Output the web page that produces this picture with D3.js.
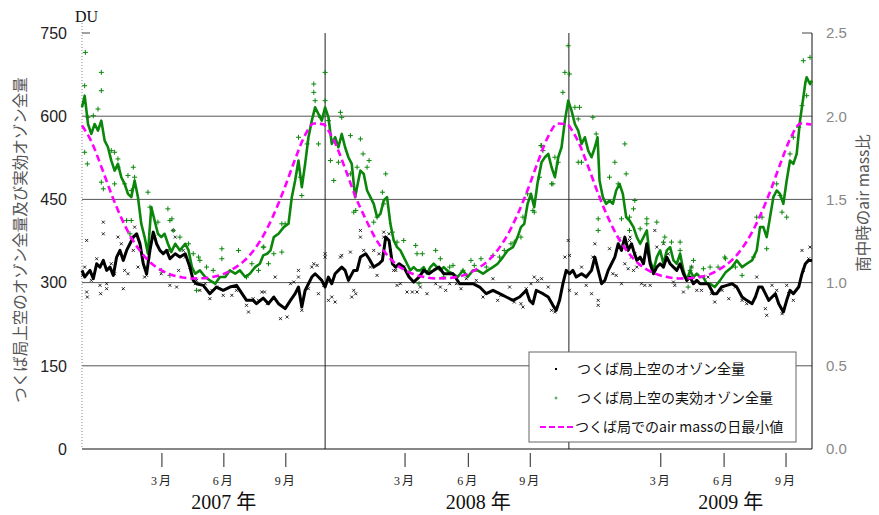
<!DOCTYPE html>
<html lang="ja">
<head>
<meta charset="UTF-8" />
<title>つくば局 オゾン全量と air mass</title>
<script src="https://d3js.org/d3.v7.min.js"></script>
<style>
  body { margin: 0; background: #fff; }
  svg { display: block; }
  .jp { font-family: "Noto Sans CJK JP", sans-serif; }
  .num { font-family: "Liberation Sans", Arial, sans-serif; }
  .serif { font-family: "Liberation Serif", "Noto Sans CJK JP", serif; }
</style>
</head>
<body>
<svg id="chart" width="879" height="515"></svg>
<script>
// days counted from 2007-01-01
const startDate = new Date(2007, 0, 1);
const endDate = new Date(2010, 0, 1);

// つくば局上空のオゾン全量 (running mean), [day, DU]
const totalLine = [[0,322],[4,310],[12,322],[17,307],[22,334],[27,328],[32,340],[37,322],[42,328],[47,313],[52,346],[57,358],[62,340],[67,358],[72,370],[77,382],[82,388],[87,370],[92,334],[97,316],[102,358],[107,391],[112,370],[117,358],[122,352],[127,358],[132,343],[140,352],[147,346],[155,352],[162,328],[167,304],[172,298],[182,295],[192,280],[202,292],[212,286],[222,292],[232,295],[237,286],[247,268],[257,268],[262,262],[272,272],[280,262],[288,274],[295,262],[305,253],[313,268],[320,280],[325,292],[330,256],[335,286],[340,298],[345,310],[350,316],[355,310],[360,304],[365,292],[370,310],[375,298],[380,316],[385,322],[390,328],[395,322],[400,304],[408,322],[413,322],[418,346],[426,352],[431,343],[438,328],[446,334],[451,340],[456,382],[461,376],[466,334],[471,328],[476,334],[483,328],[491,310],[498,301],[506,310],[513,322],[521,316],[528,322],[536,328],[543,316],[552,316],[557,316],[567,298],[577,298],[587,298],[597,292],[607,280],[617,286],[627,280],[637,274],[647,268],[657,274],[667,286],[672,268],[677,262],[682,286],[687,283],[692,280],[700,274],[707,259],[712,250],[717,268],[722,298],[727,322],[732,316],[737,322],[742,310],[750,316],[757,310],[765,322],[770,346],[775,322],[780,298],[785,304],[790,322],[795,334],[800,346],[805,370],[810,358],[815,382],[820,358],[825,370],[828,358],[833,340],[838,346],[843,334],[848,370],[853,334],[858,316],[863,328],[868,334],[873,328],[878,346],[883,334],[888,328],[893,322],[898,334],[903,316],[908,304],[913,310],[918,298],[923,304],[928,298],[933,298],[940,298],[948,280],[953,280],[960,292],[968,295],[976,298],[983,292],[991,274],[998,268],[1006,262],[1011,274],[1016,292],[1021,292],[1026,280],[1031,268],[1036,274],[1041,280],[1046,262],[1053,247],[1058,268],[1063,286],[1068,280],[1076,292],[1081,316],[1086,334],[1091,340],[1096,340]];

// つくば局上空の実効オゾン全量 (running mean), [day, DU]
const effectiveLine = [[0,616],[4,637],[9,586],[14,568],[19,586],[24,574],[29,592],[34,556],[39,544],[44,520],[49,502],[54,514],[59,490],[64,478],[69,460],[74,454],[79,484],[84,454],[89,406],[94,382],[99,352],[104,436],[109,412],[114,388],[119,382],[124,388],[129,370],[134,355],[140,370],[147,358],[155,370],[160,358],[165,328],[170,316],[177,322],[185,310],[192,304],[200,298],[207,310],[215,310],[222,322],[230,316],[237,322],[245,310],[252,316],[260,328],[267,334],[272,349],[278,352],[283,358],[288,382],[295,388],[303,400],[310,406],[315,454],[320,484],[325,520],[330,472],[335,514],[340,562],[345,592],[350,616],[355,604],[360,592],[365,616],[370,598],[375,550],[380,562],[385,544],[390,568],[395,544],[400,526],[405,514],[410,454],[414,478],[418,502],[423,496],[428,466],[433,454],[438,442],[443,418],[448,424],[453,448],[458,454],[463,406],[468,376],[473,364],[478,358],[483,346],[488,334],[493,322],[498,328],[503,322],[508,322],[513,328],[518,316],[523,328],[528,334],[533,328],[538,322],[543,328],[550,320],[557,316],[564,310],[572,322],[579,310],[587,322],[594,322],[602,316],[609,322],[617,328],[624,334],[632,346],[639,358],[647,364],[654,382],[659,400],[664,406],[669,442],[674,460],[679,436],[684,480],[690,517],[695,526],[700,532],[705,508],[710,490],[715,526],[720,544],[725,592],[730,628],[735,610],[740,586],[745,574],[750,550],[755,562],[760,538],[765,526],[770,544],[774,562],[777,484],[782,454],[787,442],[792,448],[797,442],[802,466],[807,478],[812,460],[817,418],[822,412],[828,400],[833,382],[838,370],[843,382],[848,394],[853,340],[858,322],[863,346],[868,358],[873,334],[878,358],[883,364],[888,340],[893,334],[898,352],[903,322],[908,304],[913,322],[918,310],[923,316],[928,310],[933,310],[938,298],[943,298],[950,292],[958,304],[966,318],[976,328],[983,340],[991,328],[998,334],[1006,340],[1013,358],[1018,400],[1023,400],[1028,382],[1033,418],[1038,454],[1043,466],[1048,460],[1053,442],[1058,484],[1063,520],[1068,514],[1073,532],[1078,592],[1083,634],[1086,660],[1088,670],[1093,658],[1096,664]];

// daily values (markers), [day, DU]
const totalPoints = [[7,376],[32,388],[32,409],[7,283],[8,274],[27,295],[28,280],[37,298],[37,289],[62,289],[54,382],[59,370],[69,316],[77,358],[79,400],[84,328],[94,310],[97,313],[119,316],[129,358],[132,295],[4,328],[14,304],[1,313],[49,316],[44,334],[22,343],[64,322],[109,382],[74,382],[137,394],[140,382],[145,322],[142,292],[152,358],[155,346],[162,328],[170,298],[177,286],[185,298],[192,271],[195,286],[212,277],[225,277],[232,286],[247,259],[250,247],[257,271],[265,268],[270,283],[172,304],[202,292],[278,262],[290,310],[298,235],[308,238],[313,298],[318,301],[325,310],[325,322],[330,250],[345,328],[348,334],[353,331],[355,280],[363,295],[365,352],[365,346],[370,268],[375,274],[380,265],[388,346],[390,349],[403,355],[405,274],[408,286],[274,283],[340,289],[411,280],[418,394],[418,382],[423,358],[433,328],[438,358],[443,313],[446,352],[453,391],[453,382],[461,388],[468,322],[471,322],[473,295],[478,298],[483,328],[488,283],[496,283],[503,283],[508,292],[518,280],[531,298],[538,292],[546,286],[463,358],[552,298],[562,298],[569,289],[577,307],[592,304],[602,274],[617,307],[624,268],[629,277],[642,292],[649,265],[659,262],[667,289],[674,298],[679,310],[684,304],[662,256],[690,307],[700,292],[705,250],[710,247],[725,346],[730,376],[732,349],[732,286],[742,280],[750,328],[757,295],[767,346],[770,370],[775,268],[775,259],[792,361],[797,316],[802,313],[807,379],[810,298],[815,334],[820,325],[822,376],[825,346],[765,280],[823,382],[828,322],[833,328],[840,298],[845,295],[853,295],[860,394],[863,364],[873,370],[880,352],[888,301],[890,295],[903,283],[915,328],[923,286],[930,286],[940,310],[945,280],[950,265],[830,352],[961,286],[971,271],[981,292],[991,268],[998,262],[1013,310],[1026,253],[1028,241],[1036,295],[1043,286],[1051,244],[1058,295],[1061,280],[1068,268],[1081,358],[1083,322],[1091,343],[1093,364]];

const effectivePoints = [[5,715],[29,679],[29,646],[4,655],[9,598],[4,535],[8,514],[17,601],[24,613],[44,538],[49,535],[54,523],[54,508],[69,493],[77,508],[79,490],[29,481],[32,469],[49,478],[64,478],[74,466],[99,463],[102,436],[114,409],[129,433],[132,412],[132,313],[119,322],[74,412],[72,388],[67,412],[135,415],[137,394],[147,382],[160,370],[167,352],[175,346],[177,340],[172,286],[187,328],[197,322],[210,361],[210,343],[235,358],[247,310],[255,334],[265,322],[272,364],[273,364],[280,334],[288,352],[300,406],[300,355],[305,406],[325,562],[328,490],[330,457],[338,550],[348,658],[348,643],[350,628],[358,598],[355,550],[365,679],[365,628],[373,520],[378,484],[388,607],[390,598],[403,565],[403,496],[408,427],[370,592],[385,517],[418,559],[422,532],[431,520],[428,508],[413,508],[411,430],[438,409],[443,418],[456,496],[451,463],[453,442],[466,391],[473,373],[483,376],[501,367],[503,352],[511,352],[521,322],[531,358],[538,343],[543,310],[506,298],[552,328],[557,331],[572,322],[584,340],[589,331],[599,343],[607,328],[617,349],[627,346],[634,358],[644,370],[649,373],[659,382],[662,418],[669,460],[677,430],[679,427],[687,490],[689,547],[690,547],[692,538],[705,478],[707,478],[710,526],[715,517],[722,643],[725,679],[732,676],[730,727],[740,616],[745,595],[747,616],[767,598],[772,568],[745,517],[750,517],[775,394],[775,415],[792,490],[800,517],[805,478],[815,550],[810,415],[822,394],[822,418],[817,496],[828,433],[830,448],[838,397],[848,415],[848,406],[863,409],[873,373],[875,382],[885,373],[898,373],[898,358],[913,322],[915,328],[918,340],[910,292],[933,325],[943,328],[955,328],[965,346],[966,343],[991,313],[981,328],[1008,346],[1013,418],[1021,418],[1028,361],[1043,478],[1048,457],[1051,427],[1058,418],[1063,532],[1068,562],[1076,580],[1081,619],[1083,700],[1093,706],[1088,637]];

// つくば局での air mass の日最小値 (same each year)
const airMassDays = ["01-01","01-15","02-01","02-15","03-01","03-15","04-01","04-15","05-01","05-15","06-01","06-15","07-01","07-15","08-01","08-15","09-01","09-15","10-01","10-15","11-01","11-15","12-01","12-15","12-31"];
const airMassValues = [1.944,1.848,1.675,1.523,1.389,1.277,1.176,1.116,1.072,1.047,1.031,1.025,1.026,1.033,1.051,1.080,1.129,1.190,1.288,1.401,1.567,1.720,1.879,1.956,1.950];
const years = [2007, 2008, 2009];

const leftTicks = [0, 150, 300, 450, 600, 750];
const rightTicks = [0.0, 0.5, 1.0, 1.5, 2.0, 2.5];
const gridValues = [150, 300, 450, 600];
const yearBoundaries = ["2008-01-01", "2009-01-01"];
const monthTickDates = ["2007-05-01","2007-08-02","2007-11-03","2008-04-30","2008-08-03","2008-11-04","2009-05-19","2009-08-22","2009-11-23"];
const monthTickLabels = ["3月","6月","9月","3月","6月","9月","3月","6月","9月"];
const yearLabelDates = ["2007-08-02","2008-08-18","2009-09-01"];
const yearLabels = ["2007 年","2008 年","2009 年"];

const legendItems = [
  { key: "dot", text: "つくば局上空のオゾン全量" },
  { key: "plus", text: "つくば局上空の実効オゾン全量" },
  { key: "dash", text: "つくば局でのair massの日最小値" }
];

const parse = d3.timeParse("%Y-%m-%d");
const dayToDate = d => d3.timeDay.offset(startDate, d);

const svg = d3.select("#chart");
const plotLeft = 82, plotRight = 812, plotTop = 33, plotBottom = 449;

const x = d3.scaleTime().domain([startDate, endDate]).range([plotLeft, plotRight]);
const y = d3.scaleLinear().domain([0, 750]).range([plotBottom, plotTop]);
const y2 = d3.scaleLinear().domain([0, 2.5]).range([plotBottom, plotTop]);

const green = "#0a870a";
const magenta = "#ff00ff";

// grid
svg.append("g")
  .selectAll("line")
  .data(gridValues)
  .join("line")
  .attr("x1", plotLeft).attr("x2", plotRight)
  .attr("y1", d => y(d)).attr("y2", d => y(d))
  .attr("stroke", "#555").attr("stroke-width", 1);

// short ticks at top
svg.append("line").attr("x1", plotLeft).attr("x2", plotLeft + 8).attr("y1", y(750)).attr("y2", y(750)).attr("stroke", "#444");
svg.append("line").attr("x1", plotRight - 10).attr("x2", plotRight).attr("y1", y(750)).attr("y2", y(750)).attr("stroke", "#444");

svg.append("g")
  .selectAll("line")
  .data(yearBoundaries)
  .join("line")
  .attr("x1", d => x(parse(d))).attr("x2", d => x(parse(d)))
  .attr("y1", plotTop).attr("y2", plotBottom)
  .attr("stroke", "#222").attr("stroke-width", 1);

// axes frame
svg.append("line").attr("x1", plotLeft).attr("x2", plotLeft).attr("y1", plotTop - 10).attr("y2", plotBottom)
  .attr("stroke", "#888").attr("stroke-dasharray", "1,2");
svg.append("line").attr("x1", plotRight).attr("x2", plotRight).attr("y1", plotTop).attr("y2", plotBottom)
  .attr("stroke", "#111");
svg.append("line").attr("x1", plotLeft).attr("x2", plotRight).attr("y1", plotBottom).attr("y2", plotBottom)
  .attr("stroke", "#111").attr("stroke-width", 1.2);

// markers
svg.append("g")
  .selectAll("path")
  .data(totalPoints)
  .join("path")
  .attr("transform", d => `translate(${x(dayToDate(d[0]))},${y(d[1])})`)
  .attr("d", "M-1.5,-1.5L1.5,1.5M-1.5,1.5L1.5,-1.5")
  .attr("stroke", "#111").attr("stroke-width", 0.9);

svg.append("g")
  .selectAll("path")
  .data(effectivePoints)
  .join("path")
  .attr("transform", d => `translate(${x(dayToDate(d[0]))},${y(d[1])})`)
  .attr("d", "M-2.5,0H2.5M0,-2.5V2.5")
  .attr("stroke", green).attr("stroke-width", 1);

const line = d3.line()
  .x(d => x(dayToDate(d[0])))
  .y(d => y(d[1]));

svg.append("path")
  .datum(effectiveLine)
  .attr("d", line)
  .attr("fill", "none").attr("stroke", green).attr("stroke-width", 2.6)
  .attr("stroke-linejoin", "round");

svg.append("path")
  .datum(totalLine)
  .attr("d", line)
  .attr("fill", "none").attr("stroke", "#000").attr("stroke-width", 3)
  .attr("stroke-linejoin", "round");

// air mass
const airMass = [];
years.forEach(yr => {
  airMassDays.forEach((md, i) => {
    airMass.push({ date: parse(`${yr}-${md}`), value: airMassValues[i] });
  });
});

svg.append("path")
  .datum(airMass)
  .attr("d", d3.line().curve(d3.curveMonotoneX).x(d => x(d.date)).y(d => y2(d.value)))
  .attr("fill", "none").attr("stroke", magenta).attr("stroke-width", 2.6)
  .attr("stroke-dasharray", "7,4");

// left tick labels
svg.append("g")
  .selectAll("text")
  .data(leftTicks)
  .join("text")
  .attr("class", "num")
  .attr("x", 67).attr("y", d => y(d))
  .attr("dy", "0.36em")
  .attr("text-anchor", "end")
  .attr("font-size", 16)
  .attr("fill", "#222")
  .text(d => d);

// right tick labels
svg.append("g")
  .selectAll("text")
  .data(rightTicks)
  .join("text")
  .attr("class", "num")
  .attr("x", 826).attr("y", d => y2(d))
  .attr("dy", "0.36em")
  .attr("font-size", 15)
  .attr("fill", "#888")
  .text(d => d.toFixed(1));

svg.append("text")
  .attr("class", "serif")
  .attr("x", 75).attr("y", 22)
  .attr("font-size", 16)
  .attr("fill", "#111")
  .text("DU");

svg.append("text")
  .attr("class", "jp")
  .attr("transform", "translate(26,240) rotate(-90)")
  .attr("text-anchor", "middle")
  .attr("font-size", 15.5)
  .attr("fill", "#555")
  .text("つくば局上空のオゾン全量及び実効オゾン全量");

svg.append("text")
  .attr("class", "jp")
  .attr("transform", "translate(869,203) rotate(-90)")
  .attr("text-anchor", "middle")
  .attr("font-size", 15.5)
  .attr("fill", "#555")
  .text("南中時のair mass比");

// month ticks and labels
svg.append("g")
  .selectAll("line")
  .data(monthTickDates)
  .join("line")
  .attr("x1", d => x(parse(d))).attr("x2", d => x(parse(d)))
  .attr("y1", 453).attr("y2", 467)
  .attr("stroke", "#222");

svg.append("g")
  .selectAll("text")
  .data(monthTickDates)
  .join("text")
  .attr("class", "serif")
  .attr("x", d => x(parse(d))).attr("y", 485)
  .attr("text-anchor", "middle")
  .attr("font-size", 12)
  .attr("letter-spacing", 2)
  .attr("fill", "#222")
  .text((d, i) => monthTickLabels[i]);

svg.append("g")
  .selectAll("text")
  .data(yearLabelDates)
  .join("text")
  .attr("class", "serif")
  .attr("x", d => x(parse(d))).attr("y", 509)
  .attr("text-anchor", "middle")
  .attr("font-size", 20)
  .attr("fill", "#111")
  .text((d, i) => yearLabels[i]);

// legend
const lg = svg.append("g");
lg.append("rect")
  .attr("x", 529).attr("y", 352).attr("width", 267).attr("height", 90)
  .attr("fill", "#fff").attr("stroke", "#666").attr("stroke-width", 1);

const item = lg.selectAll("g")
  .data(legendItems)
  .join("g")
  .attr("transform", (d, i) => `translate(0,${369 + i * 29})`);

item.append("text")
  .attr("class", "jp")
  .attr("x", d => d.key === "dash" ? 575 : 577)
  .attr("dy", "0.35em")
  .attr("font-size", 14)
  .attr("fill", "#111")
  .text(d => d.text);

item.filter(d => d.key === "dot").append("rect")
  .attr("x", 555).attr("y", -1).attr("width", 2).attr("height", 2).attr("fill", "#000");
item.filter(d => d.key === "plus").append("path")
  .attr("d", "M554.5,0H557.5M556,-1.5V1.5")
  .attr("stroke", green).attr("stroke-width", 0.8);
item.filter(d => d.key === "dash").append("line")
  .attr("x1", 540).attr("x2", 573).attr("y1", 0).attr("y2", 0)
  .attr("stroke", magenta).attr("stroke-width", 2.2).attr("stroke-dasharray", "6,3");
</script>
</body>
</html>
